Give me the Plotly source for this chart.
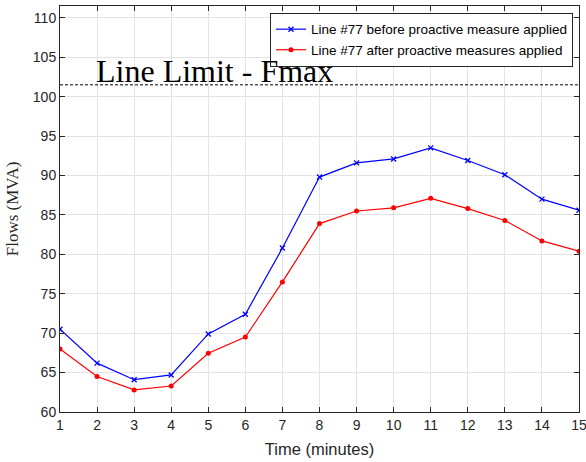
import plotly.graph_objects as go

minutes = list(range(1, 16))
before = [70.5, 66.2, 64.1, 64.7, 69.9, 72.4, 80.8, 89.8, 91.6, 92.1, 93.5, 91.9, 90.1, 87.0, 85.6]
after = [68.0, 64.5, 62.8, 63.3, 67.45, 69.5, 76.5, 83.9, 85.5, 85.9, 87.1, 85.8, 84.3, 81.7, 80.4]
fmax = 101.5
names = ["Line #77 before proactive measure applied", "Line #77 after proactive measures applied"]
limit_label = "Line Limit - Fmax"

fig = go.Figure()
fig.add_trace(go.Scatter(x=minutes, y=before, mode="lines+markers", name=names[0],
                         line=dict(color="#0000ff", width=1.2),
                         marker=dict(symbol="x-thin", size=5, color="#0000ff",
                                     line=dict(color="#0000ff", width=1.3))))
fig.add_trace(go.Scatter(x=minutes, y=after, mode="lines+markers", name=names[1],
                         line=dict(color="#ff0000", width=1.2),
                         marker=dict(symbol="circle", size=5, color="#ff0000")))
fig.add_trace(go.Scatter(x=[minutes[0], minutes[-1]], y=[fmax, fmax], mode="lines",
                         showlegend=False, hoverinfo="skip",
                         line=dict(color="black", width=1, dash="3px,2px")))

fig.add_annotation(x=2, y=fmax, xref="x", yref="y", text=limit_label, showarrow=False,
                   xanchor="left", yanchor="bottom", xshift=-3, yshift=-6,
                   font=dict(family="Liberation Serif", size=32, color="black"))

axis_common = dict(showline=True, linecolor="#262626", linewidth=1, mirror="ticks",
                   ticks="inside", ticklen=5, tickcolor="#262626", automargin=False,
                   ticklabeloverflow="allow",
                   showgrid=True, gridcolor="#e3e3e3", gridwidth=1, zeroline=False,
                   tickfont=dict(family="Liberation Sans", size=14, color="#262626"))

fig.update_layout(
    width=586, height=462,
    margin=dict(l=60, r=7, t=6, b=50),
    plot_bgcolor="white", paper_bgcolor="white",
    xaxis=dict(range=[1, 15], dtick=1, tick0=1,
               title=dict(text="Time (minutes)", standoff=11,
                          font=dict(family="Liberation Sans", size=16.5, color="#262626")),
               **axis_common),
    yaxis=dict(range=[60, 111.5], dtick=5, tick0=60,
               title=dict(text="Flows (MVA)", standoff=9,
                          font=dict(family="Liberation Serif", size=17, color="#262626")),
               **axis_common),
    legend=dict(x=0.9884, y=0.983, xanchor="right", yanchor="top",
                bgcolor="white", bordercolor="#262626", borderwidth=1,
                font=dict(family="Liberation Sans", size=13.5, color="black"),
                itemwidth=30, tracegroupgap=0),
    showlegend=True,
)

fig.write_html("out.html", config={"displayModeBar": False},
               post_script="document.body.style.margin='0';document.body.style.overflow='hidden';")
